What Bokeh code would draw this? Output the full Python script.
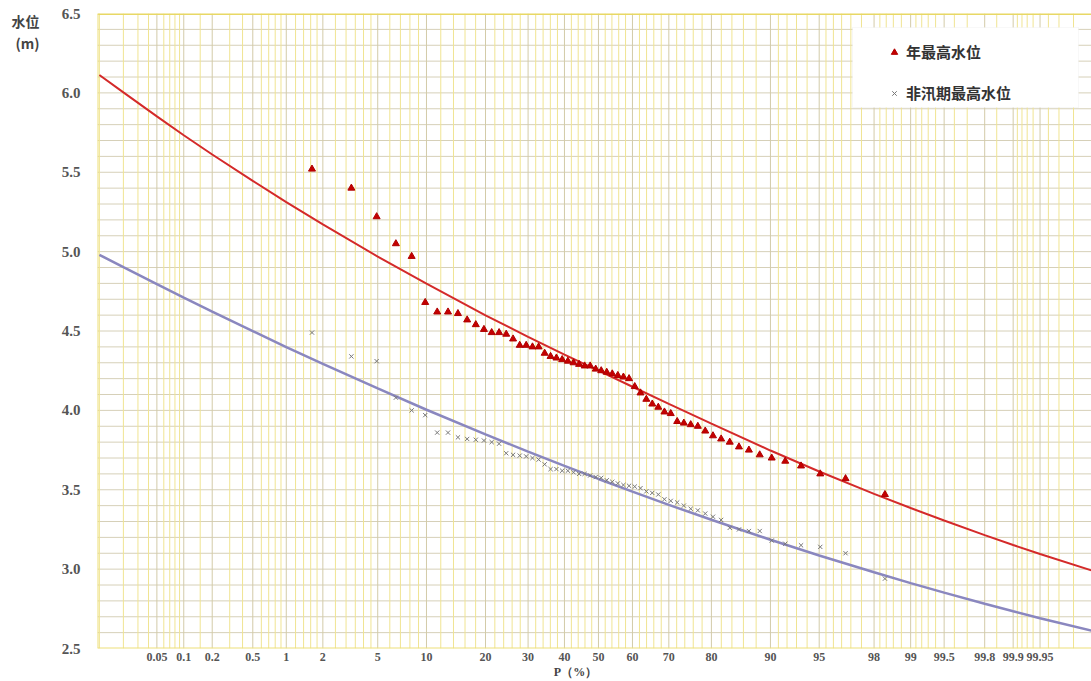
from statistics import NormalDist
from bokeh.plotting import figure
from bokeh.models import (Range1d, FixedTicker, Span, BoxAnnotation, LinearAxis,
                          Legend, LegendItem, ColumnDataSource)
from bokeh.embed import file_html
from bokeh.resources import INLINE

# ---------------- data ----------------
rank = list(range(1, 61))            # rank m of each sorted annual value (n = 60)
n_years = 60

annual_max = [5.52, 5.40, 5.22, 5.05, 4.97, 4.68, 4.62, 4.62, 4.61, 4.57,
              4.54, 4.51, 4.49, 4.49, 4.48, 4.45, 4.41, 4.41, 4.40, 4.40,
              4.36, 4.34, 4.33, 4.32, 4.31, 4.30, 4.29, 4.28, 4.28, 4.26,
              4.25, 4.24, 4.23, 4.22, 4.21, 4.20, 4.15, 4.11, 4.07, 4.04,
              4.02, 3.99, 3.98, 3.93, 3.92, 3.91, 3.90, 3.87, 3.84, 3.82,
              3.80, 3.77, 3.75, 3.72, 3.70, 3.68, 3.65, 3.60, 3.57, 3.47]

nonflood_max = [4.49, 4.34, 4.31, 4.08, 4.00, 3.97, 3.86, 3.86, 3.83, 3.82,
                3.815, 3.81, 3.80, 3.79, 3.73, 3.72, 3.715, 3.71, 3.70, 3.69,
                3.66, 3.63, 3.63, 3.62, 3.62, 3.61, 3.60, 3.60, 3.59, 3.58,
                3.575, 3.56, 3.55, 3.54, 3.53, 3.525, 3.52, 3.51, 3.49, 3.48,
                3.47, 3.44, 3.43, 3.42, 3.40, 3.38, 3.37, 3.35, 3.33, 3.31,
                3.26, 3.25, 3.24, 3.24, 3.18, 3.16, 3.15, 3.14, 3.10, 2.94]

curve_p = [0.01, 0.02, 0.05, 0.1, 0.2, 0.5, 1, 2, 5, 10, 20, 30, 40, 50, 60,
           70, 80, 90, 95, 98, 99, 99.5, 99.8, 99.9, 99.95, 99.99]
annual_curve = [6.113, 6.003, 5.852, 5.733, 5.612, 5.446, 5.312, 5.172, 4.969,
                4.798, 4.599, 4.463, 4.351, 4.250, 4.149, 4.041, 3.917, 3.747,
                3.615, 3.474, 3.385, 3.306, 3.214, 3.152, 3.095, 2.980]
nonflood_curve = [4.980, 4.902, 4.795, 4.710, 4.622, 4.499, 4.399, 4.293, 4.138,
                  4.004, 3.849, 3.740, 3.650, 3.568, 3.488, 3.405, 3.311, 3.185,
                  3.086, 2.980, 2.912, 2.852, 2.782, 2.735, 2.691, 2.603]

tick_p = [0.05, 0.1, 0.2, 0.5, 1, 2, 5, 10, 20, 30, 40, 50, 60, 70, 80, 90,
          95, 98, 99, 99.5, 99.8, 99.9, 99.95]
tick_labels = ["0.05", "0.1", "0.2", "0.5", "1", "2", "5", "10", "20", "30",
               "40", "50", "60", "70", "80", "90", "95", "98", "99", "99.5",
               "99.8", "99.9", "99.95"]
y_ticks = [2.5, 3.0, 3.5, 4.0, 4.5, 5.0, 5.5, 6.0, 6.5]
y_labels = ["2.5", "3.0", "3.5", "4.0", "4.5", "5.0", "5.5", "6.0", "6.5"]

series_names = ["年最高水位", "非汛期最高水位"]
y_title = ["水位", "(m)"]
x_title = "P（%）"

# probability-paper grid (P in %)
grid_low = [0.01, 0.02, 0.03, 0.04, 0.05, 0.06, 0.07, 0.08, 0.09, 0.1, 0.15,
            0.2, 0.3, 0.4, 0.5, 0.6, 0.7, 0.8, 0.9, 1, 1.2, 1.4, 1.6, 1.8, 2,
            2.5, 3, 3.5, 4, 4.5, 5, 6, 7, 8, 9]
grid_mid = list(range(10, 91, 2))

# ---------------- probability scale ----------------
nd = NormalDist()


def zq(p):
    return nd.inv_cdf(p / 100.0)


emp_p = [100.0 * m / (n_years + 1) for m in rank]

grid_p = grid_low + grid_mid + [round(100 - g, 4) for g in grid_low]
major_set = set(tick_p)
minor_z = [zq(g) for g in grid_p if g not in major_set]
major_z = [zq(g) for g in grid_p if g in major_set]

Z_LEFT, Z_RIGHT = -3.733, 3.674
Y_MIN, Y_MAX = 2.5, 6.5

p = figure(width=1091, height=681, output_backend="svg", toolbar_location=None,
           x_range=Range1d(Z_LEFT, Z_RIGHT), y_range=Range1d(Y_MIN, Y_MAX),
           min_border_left=97, min_border_right=0, min_border_top=13,
           min_border_bottom=33)
p.background_fill_color = "white"
p.border_fill_color = "white"
p.outline_line_color = None
p.xgrid.grid_line_color = None
p.ygrid.grid_line_color = None

# grid lines
hy = [round(Y_MIN + 0.1 * i, 1) for i in range(1, 40)]
p.segment(x0=[Z_LEFT] * len(hy), y0=hy, x1=[Z_RIGHT + 1] * len(hy), y1=hy,
          line_color="#d6d0b8", line_width=1)
p.segment(x0=minor_z, y0=[Y_MIN] * len(minor_z), x1=minor_z, y1=[Y_MAX] * len(minor_z),
          line_color="#f0e492", line_width=1)
p.segment(x0=major_z, y0=[Y_MIN] * len(major_z), x1=major_z, y1=[Y_MAX] * len(major_z),
          line_color="#d3cba8", line_width=1)

# frame edges
p.add_layout(Span(location=Y_MAX, dimension="width", line_color="#e8d865", line_width=3))
p.add_layout(Span(location=Y_MIN, dimension="width", line_color="#ede07a", line_width=2))
p.add_layout(Span(location=Z_LEFT, dimension="height", line_color="#ede07a", line_width=2))

# fitted curves
cz = [zq(v) for v in curve_p]
p.line(cz, annual_curve, line_color="#d42a2a", line_width=2)
p.line(cz, nonflood_curve, line_color="#8a87bf", line_width=2.5)

# empirical points
ez = [zq(v) for v in emp_p]
src = ColumnDataSource(dict(z=ez, a=annual_max, b=nonflood_max))
r_tri = p.scatter("z", "a", source=src, marker="triangle", size=7,
                  fill_color="#c40000", line_color="#b00000")
r_x = p.scatter("z", "b", source=src, marker="x", size=6,
                line_color="#777777", line_width=1)


def style_axis(ax, font, size, standoff):
    ax.axis_line_color = None
    ax.major_tick_line_color = None
    ax.minor_tick_line_color = None
    ax.major_tick_out = 0
    ax.major_tick_in = 0
    ax.minor_tick_out = 0
    ax.minor_tick_in = 0
    ax.major_label_standoff = standoff
    ax.major_label_text_font = font
    ax.major_label_text_font_size = size
    ax.major_label_text_font_style = "bold"
    ax.major_label_text_color = "#555555"


# y axis
p.yaxis.ticker = FixedTicker(ticks=y_ticks)
p.yaxis.major_label_overrides = dict(zip(y_ticks, y_labels))
style_axis(p.yaxis[0], "Liberation Serif", "15px", 17)

# x axis
xt = [zq(v) for v in tick_p]
p.xaxis.ticker = FixedTicker(ticks=xt)
p.xaxis.major_label_overrides = dict(zip(xt, tick_labels))
style_axis(p.xaxis[0], "Liberation Serif", "12px", 4)

# y title ("水位 (m)") at top-left, as an outer left axis
y_title_pos = [6.455, 6.315]
ax_t = LinearAxis(ticker=FixedTicker(ticks=y_title_pos),
                  major_label_overrides=dict(zip(y_title_pos, y_title)))
style_axis(ax_t, "Noto Sans CJK SC", "14px", 19)
ax_t.major_label_text_color = "#444444"
p.add_layout(ax_t, "left")

# x title "P（%）" under the tick labels, as an outer bottom axis
x_title_pos = [-0.171]
ax_p = LinearAxis(ticker=FixedTicker(ticks=x_title_pos),
                  major_label_overrides={x_title_pos[0]: x_title})
style_axis(ax_p, "Liberation Serif", "12px", 1)
ax_p.major_label_text_color = "#444444"
p.add_layout(ax_p, "below")

# legend
p.add_layout(BoxAnnotation(left=1.893, right=3.577, top=6.412, bottom=5.908,
                           fill_color="white", fill_alpha=1.0,
                           line_color="#e6e6e6", line_width=1))
legend = Legend(items=[LegendItem(label=series_names[0], renderers=[r_tri]),
                       LegendItem(label=series_names[1], renderers=[r_x])],
                location=(789, 545), orientation="vertical",
                background_fill_alpha=0.0, border_line_color=None,
                padding=6, spacing=20, margin=0,
                glyph_width=16, glyph_height=20, label_height=20,
                label_standoff=4,
                label_text_font="Noto Sans CJK SC", label_text_font_size="15px",
                label_text_font_style="bold", label_text_color="#333333")
p.add_layout(legend)

open("out.html", "w").write(file_html(p, INLINE))
